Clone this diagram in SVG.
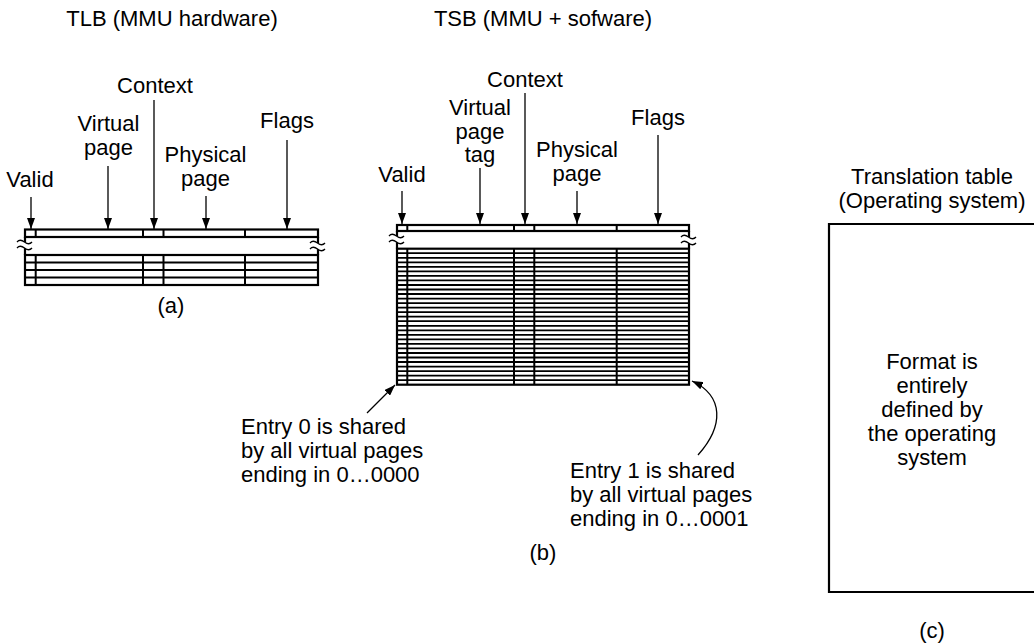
<svg xmlns="http://www.w3.org/2000/svg" width="1034" height="644" viewBox="0 0 1034 644">
<defs>
<style>
text{font-family:"Liberation Sans",Arial,sans-serif;font-size:22px;fill:#000}
.m{text-anchor:middle}
.tb{fill:none;stroke:#000;stroke-width:2.2}
.rl{fill:none;stroke:#000;stroke-width:2}
.rs{fill:none;stroke:#000;stroke-width:1.8}
.ar{fill:none;stroke:#000;stroke-width:1.3;marker-end:url(#ah)}
.sq{fill:none;stroke:#000;stroke-width:1.3}
</style>
<marker id="ah" markerUnits="userSpaceOnUse" markerWidth="11" markerHeight="8" refX="11" refY="4" orient="auto">
<path d="M0,0 L11,4 L0,8 z" fill="#000"/>
</marker>
</defs>
<rect width="1034" height="644" fill="#fff"/>

<g id="titles">
<text class="m" x="172" y="26">TLB (MMU hardware)</text>
<text class="m" x="543" y="26">TSB (MMU + sofware)</text>
</g>

<g id="tlb">
<text class="m" x="155" y="93">Context</text>
<text class="m" x="108.5" y="131">Virtual</text>
<text class="m" x="108.5" y="155">page</text>
<text class="m" x="205.5" y="162">Physical</text>
<text class="m" x="205.5" y="186">page</text>
<text class="m" x="287" y="128">Flags</text>
<text class="m" x="30" y="187">Valid</text>
<rect class="tb" x="25" y="229.5" width="293" height="7.5"/>
<path class="rl" d="M35.7,229.5V237 M143,229.5V237 M163.5,229.5V237 M245,229.5V237"/>
<path class="tb" d="M25,237V255 M318,237V255"/>
<rect class="tb" x="25" y="255" width="293" height="30"/>
<path class="rl" d="M25,262.5H318 M25,270H318 M25,277.5H318 M35.7,255V285 M143,255V285 M163.5,255V285 M245,255V285"/>
<path d="M17,242 q3,-3.5 7.5,0 t7.5,0 v6 q-3,3.5 -7.5,0 t-7.5,0 z" fill="#fff"/>
<path class="sq" d="M17,242 q3,-3.5 7.5,0 t7.5,0 M17,248 q3,-3.5 7.5,0 t7.5,0"/>
<path d="M310,243 q3,-3.5 7.5,0 t7.5,0 v6 q-3,3.5 -7.5,0 t-7.5,0 z" fill="#fff"/>
<path class="sq" d="M310,243 q3,-3.5 7.5,0 t7.5,0 M310,249 q3,-3.5 7.5,0 t7.5,0"/>
<text class="m" x="171" y="313">(a)</text>
</g>

<g id="tsb">
<text class="m" x="525" y="87">Context</text>
<text class="m" x="480" y="115">Virtual</text>
<text class="m" x="480" y="139">page</text>
<text class="m" x="480" y="162">tag</text>
<text class="m" x="577" y="157">Physical</text>
<text class="m" x="577" y="181">page</text>
<text class="m" x="658" y="125">Flags</text>
<text class="m" x="402" y="182">Valid</text>
<rect class="tb" x="397" y="225" width="292" height="6"/>
<path class="rl" d="M407.3,225V231 M514,225V231 M534.3,225V231 M616.7,225V231"/>
<path class="tb" d="M397,231V248.7 M689,231V248.7"/>
<rect class="tb" x="397" y="248.7" width="292" height="136"/>
<path class="rs" d="M397,253.2H689 M397,257.8H689 M397,262.3H689 M397,266.8H689 M397,271.4H689 M397,275.9H689 M397,280.4H689 M397,285H689 M397,289.5H689 M397,294H689 M397,298.6H689 M397,303.1H689 M397,307.6H689 M397,312.2H689 M397,316.7H689 M397,321.2H689 M397,325.8H689 M397,330.3H689 M397,334.8H689 M397,339.4H689 M397,343.9H689 M397,348.4H689 M397,353H689 M397,357.5H689 M397,362H689 M397,366.6H689 M397,371.1H689 M397,375.6H689 M397,380.2H689"/>
<path class="rl" d="M407.3,248.7V384.7 M514,248.7V384.7 M534.3,248.7V384.7 M616.7,248.7V384.7"/>
<path d="M389,236 q3,-3.5 7.5,0 t7.5,0 v6 q-3,3.5 -7.5,0 t-7.5,0 z" fill="#fff"/>
<path class="sq" d="M389,236 q3,-3.5 7.5,0 t7.5,0 M389,242 q3,-3.5 7.5,0 t7.5,0"/>
<path d="M681,237 q3,-3.5 7.5,0 t7.5,0 v6 q-3,3.5 -7.5,0 t-7.5,0 z" fill="#fff"/>
<path class="sq" d="M681,237 q3,-3.5 7.5,0 t7.5,0 M681,243 q3,-3.5 7.5,0 t7.5,0"/>
<text x="241" y="434">Entry 0 is shared</text>
<text x="241" y="458">by all virtual pages</text>
<text x="241" y="482">ending in 0…0000</text>
<text x="570" y="478">Entry 1 is shared</text>
<text x="570" y="502">by all virtual pages</text>
<text x="570" y="526">ending in 0…0001</text>
<text class="m" x="543" y="560">(b)</text>
</g>

<g id="translation-table">
<text class="m" x="932" y="184">Translation table</text>
<text class="m" x="932" y="208">(Operating system)</text>
<path class="tb" d="M1036,224H829V592H1036"/>
<text class="m" x="932" y="369">Format is</text>
<text class="m" x="932" y="393">entirely</text>
<text class="m" x="932" y="417">defined by</text>
<text class="m" x="932" y="441">the operating</text>
<text class="m" x="932" y="465">system</text>
<text class="m" x="932" y="638">(c)</text>
</g>

<g id="connectors">
<path class="ar" d="M31,197V229"/>
<path class="ar" d="M108,166V229"/>
<path class="ar" d="M154,100V229"/>
<path class="ar" d="M206,196V229"/>
<path class="ar" d="M287,140V229"/>
<path class="ar" d="M402,191V224"/>
<path class="ar" d="M480,168V224"/>
<path class="ar" d="M525,93V224"/>
<path class="ar" d="M577,191V224"/>
<path class="ar" d="M658,135V224"/>
<path class="ar" d="M367,413L395,385"/>
<path class="ar" d="M698,455C724,426 724,396 692,381"/>
</g>
</svg>
